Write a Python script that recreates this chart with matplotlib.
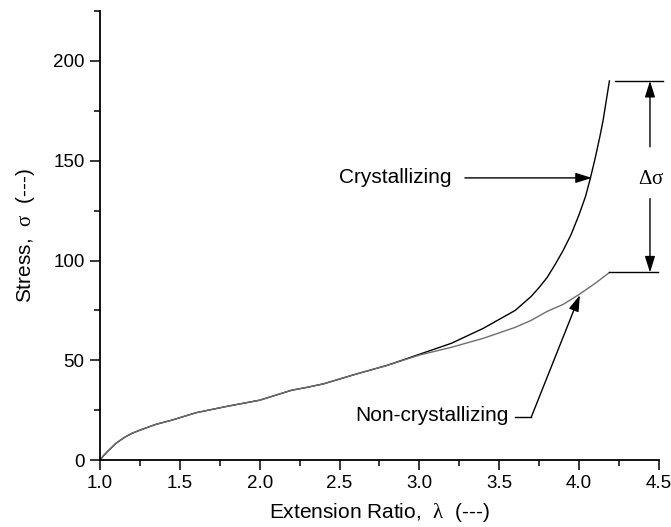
import matplotlib
matplotlib.use('Agg')
import matplotlib.pyplot as plt
from matplotlib.ticker import MultipleLocator

plt.rcParams['font.family'] = ['Liberation Sans', 'DejaVu Sans']
plt.rcParams['mathtext.fontset'] = 'custom'
plt.rcParams['mathtext.rm'] = 'Liberation Serif'
plt.rcParams['mathtext.it'] = 'Liberation Serif'

# stress-strain curves
lam_cryst = [1.0, 1.02, 1.05, 1.1, 1.15, 1.2, 1.25, 1.35, 1.45, 1.6, 1.8, 2.0,
             2.1, 2.2, 2.3, 2.4, 2.6, 2.8, 3.0, 3.2, 3.4, 3.6, 3.65, 3.7, 3.75,
             3.8, 3.85, 3.9, 3.95, 4.0, 4.04, 4.07, 4.1, 4.13, 4.15, 4.17, 4.19]
sig_cryst = [0, 2.0, 4.5, 8.4, 11.2, 13.4, 15.0, 17.9, 20.0, 23.7, 27.0, 30.0,
             32.5, 35.0, 36.5, 38.2, 43, 47.5, 53, 58.5, 66, 75, 78.5, 82, 86.5,
             91.5, 98, 105, 113, 123, 132, 141, 151, 162, 170, 180, 190]
lam_noncryst = [1.0, 1.02, 1.05, 1.1, 1.15, 1.2, 1.25, 1.35, 1.45, 1.6, 1.8, 2.0,
                2.1, 2.2, 2.3, 2.4, 2.6, 2.8, 3.0, 3.2, 3.4, 3.6, 3.7, 3.8, 3.9,
                4.0, 4.1, 4.19]
sig_noncryst = [0, 2.0, 4.5, 8.4, 11.2, 13.4, 15.0, 17.9, 20.0, 23.7, 27.0, 30.0,
                32.5, 35.0, 36.5, 38.2, 43, 47.5, 52.6, 56.5, 61, 66.5, 70, 74.5, 78,
                83, 88.5, 94]

x_ticks = [1.0, 1.5, 2.0, 2.5, 3.0, 3.5, 4.0, 4.5]
y_ticks = [0, 50, 100, 150, 200]

fig = plt.figure(figsize=(6.71, 5.27), dpi=100)
ax = fig.add_axes([0.149, 0.127, 0.833, 0.852])

ax.plot(lam_cryst, sig_cryst, color='black', lw=1.0)
ax.plot(lam_noncryst, sig_noncryst, color='#6e6e6e', lw=1.0)

ax.set_xlim(1.0, 4.5)
ax.set_ylim(0, 225)
ax.set_xticks(x_ticks)
ax.set_xticklabels(['%.1f' % v for v in x_ticks])
ax.set_yticks(y_ticks)
ax.xaxis.set_minor_locator(MultipleLocator(0.25))
ax.yaxis.set_minor_locator(MultipleLocator(25))
ax.tick_params(which='major', direction='out', length=7, width=1.1, labelsize=13.5, pad=4)
ax.tick_params(which='minor', direction='out', length=4, width=1.1)
for side in ['top', 'right']:
    ax.spines[side].set_visible(False)
for side in ['left', 'bottom']:
    ax.spines[side].set_linewidth(1.3)

ax.set_xlabel(r'Extension Ratio,  $\mathrm{\lambda}$  (---)', fontsize=15, labelpad=6)
ax.set_ylabel(r'Stress,  $\mathrm{\sigma}$  (---)', fontsize=15, labelpad=12)

head = '-|>,head_length=0.7,head_width=0.22'
arrow = dict(arrowstyle=head, color='black', lw=1.0, mutation_scale=14,
             shrinkA=0, shrinkB=0)

# crystallizing label
ax.text(3.20, 141.4, 'Crystallizing', fontsize=15, ha='right', va='center')
ax.annotate('', xy=(4.08, 141.4), xytext=(3.285, 141.4), arrowprops=arrow)

# non-crystallizing label
ax.text(3.56, 22.5, 'Non-crystallizing', fontsize=15, ha='right', va='center')
ax.plot([3.6, 3.70], [21.4, 21.4], color='black', lw=1.0)
ax.annotate('', xy=(4.005, 82.7), xytext=(3.70, 21.4), arrowprops=arrow)

# delta sigma marker
top = sig_cryst[-1]
bot = sig_noncryst[-1]
ax.plot([4.225, 4.525], [top, top], color='black', lw=1.0, clip_on=False)
ax.plot([lam_noncryst[-1], 4.495], [bot, bot], color='black', lw=1.0, clip_on=False)
ax.annotate('', xy=(4.444, top), xytext=(4.444, 157), arrowprops=arrow,
            annotation_clip=False)
ax.annotate('', xy=(4.444, bot), xytext=(4.444, 131), arrowprops=arrow,
            annotation_clip=False)
ax.text(4.45, 141.2, r'$\mathrm{\Delta\sigma}$', fontsize=15, ha='center', va='center',
        clip_on=False)

fig.savefig('out.png', dpi=100)
